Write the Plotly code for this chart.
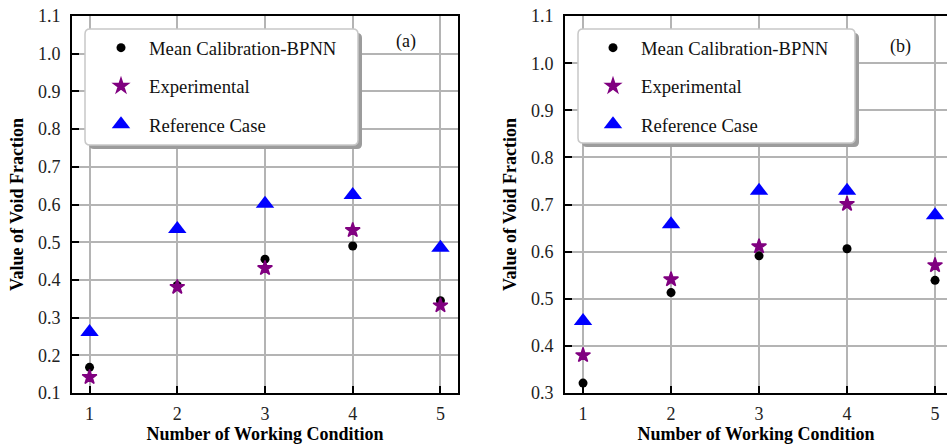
import plotly.graph_objects as go

# ---------------- data ----------------
conditions = [1, 2, 3, 4, 5]
series_names = ["Mean Calibration-BPNN", "Experimental", "Reference Case"]

a_bpnn = [0.168, 0.385, 0.455, 0.490, 0.345]
a_exp = [0.142, 0.381, 0.431, 0.532, 0.332]
a_ref = [0.262, 0.535, 0.602, 0.625, 0.485]

b_bpnn = [0.321, 0.513, 0.591, 0.606, 0.539]
b_exp = [0.380, 0.541, 0.611, 0.701, 0.571]
b_ref = [0.453, 0.658, 0.729, 0.729, 0.677]

a_yticks = [0.1, 0.2, 0.3, 0.4, 0.5, 0.6, 0.7, 0.8, 0.9, 1.0, 1.1]
b_yticks = [0.3, 0.4, 0.5, 0.6, 0.7, 0.8, 0.9, 1.0, 1.1]
panel_labels = ["(a)", "(b)"]
x_title = "Number of Working Condition"
y_title = "Value of Void Fraction"

# ---------------- layout helpers ----------------
W, H = 947, 444
FONT = "Liberation Serif"


def px(x):
    return x / W


def py(y):
    return 1 - y / H


styles = [
    dict(symbol="circle", size=9, color="black", lw=0),
    dict(symbol="star", size=11, color="#800080", lw=1.5),
    dict(symbol="triangle-up", size=16, color="#0000FF", lw=0),
]

fig = go.Figure()
for p, (vals, xa, ya, leg) in enumerate([
    ((a_bpnn, a_exp, a_ref), "x", "y", "legend"),
    ((b_bpnn, b_exp, b_ref), "x2", "y2", "legend2"),
]):
    for i, (name, v, st) in enumerate(zip(series_names, vals, styles)):
        fig.add_trace(go.Scatter(
            x=conditions, y=v, mode="markers", name=name,
            xaxis=xa, yaxis=ya, legend=leg,
            legendgroup=f"p{p}s{i}",
            marker=dict(symbol=st["symbol"], size=st["size"], color=st["color"],
                        line=dict(width=st["lw"], color=st["color"])),
            cliponaxis=False,
        ))

grid_col = "#b4b4b4"
axis_common = dict(
    showgrid=True, gridcolor=grid_col, gridwidth=1.5,
    showline=True, linecolor="black", linewidth=2,
    ticks="inside", ticklen=7, tickwidth=2, tickcolor="black",
    tickfont=dict(family=FONT, size=18, color="#222"),
    ticklabeloverflow="allow",
    zeroline=False,
)
title_font = dict(family=FONT, size=18, color="black", weight="bold")

top, bottom = 16, 393
ydom = [py(bottom), py(top)]

fig.update_layout(
    width=W, height=H,
    margin=dict(l=0, r=0, t=0, b=0),
    paper_bgcolor="white", plot_bgcolor="white",
    template="none",
    showlegend=True,
    xaxis=dict(axis_common, domain=[px(72), px(458)], range=[0.8, 5.2],
               tickvals=conditions, mirror=True, anchor="y",
               ticklabelstandoff=3,
               title=dict(text=x_title, font=title_font, standoff=6)),
    yaxis=dict(axis_common, domain=ydom, range=[0.0999, 1.1002], tickvals=a_yticks,
               tickformat=".1f", mirror=True, anchor="x",
               ticklabelstandoff=6,
               title=dict(text=y_title, font=title_font, standoff=10)),
    xaxis2=dict(axis_common, domain=[px(565), 1.0], range=[0.795, 5.136],
                tickvals=conditions, mirror=True, anchor="y2",
                ticklabelstandoff=3,
                title=dict(text=x_title, font=title_font, standoff=6)),
    yaxis2=dict(axis_common, domain=ydom, range=[0.2999, 1.1002], tickvals=b_yticks,
                tickformat=".1f", mirror=False, anchor="x2",
                ticklabelstandoff=6,
                title=dict(text=y_title, font=title_font, standoff=10)),
)

leg_common = dict(
    xanchor="left", yanchor="top",
    bgcolor="rgba(0,0,0,0)", borderwidth=0,
    font=dict(family=FONT, size=18.7, color="#111"),
    tracegroupgap=11, itemwidth=46,
)
fig.update_layout(
    legend=dict(leg_common, x=px(93), y=py(29)),
    legend2=dict(leg_common, x=px(585), y=py(29)),
)


def rounded_rect(x0, y0, x1, y1, r=5):
    pts = [
        f"M{px(x0 + r)},{py(y0)}",
        f"L{px(x1 - r)},{py(y0)}",
        f"Q{px(x1)},{py(y0)} {px(x1)},{py(y0 + r)}",
        f"L{px(x1)},{py(y1 - r)}",
        f"Q{px(x1)},{py(y1)} {px(x1 - r)},{py(y1)}",
        f"L{px(x0 + r)},{py(y1)}",
        f"Q{px(x0)},{py(y1)} {px(x0)},{py(y1 - r)}",
        f"L{px(x0)},{py(y0 + r)}",
        f"Q{px(x0)},{py(y0)} {px(x0 + r)},{py(y0)}",
        "Z",
    ]
    return " ".join(pts)


shapes = []
shapes.append(dict(type="rect", xref="paper", yref="paper",
                   x0=px(860), x1=px(932), y0=py(156), y1=py(17.5),
                   fillcolor="white", line=dict(width=0), layer="between"))
for (x0, y0, x1, y1) in [(85, 29, 358, 145), (578, 29, 855, 143)]:
    shapes.append(dict(type="path", xref="paper", yref="paper",
                       path=rounded_rect(x0 + 4, y0 + 4, x1 + 4, y1 + 4),
                       fillcolor="#9c9c9c", line=dict(width=0), layer="above"))
    shapes.append(dict(type="path", xref="paper", yref="paper",
                       path=rounded_rect(x0, y0, x1, y1),
                       fillcolor="white", line=dict(color="#c8c8c8", width=1.5), layer="above"))
fig.update_layout(shapes=shapes)

for label, lx, ly in [(panel_labels[0], 406, 41), (panel_labels[1], 900, 46)]:
    fig.add_annotation(text=label, xref="paper", yref="paper",
                       x=px(lx), y=py(ly), xanchor="center", yanchor="middle",
                       showarrow=False,
                       font=dict(family=FONT, size=18, color="#111"))

# remove the default page margin so the 947x444 figure fills the window exactly
fig.write_html(
    "out.html",
    config={"displayModeBar": False},
    post_script="document.body.style.margin='0px';document.body.style.overflow='hidden';",
)
